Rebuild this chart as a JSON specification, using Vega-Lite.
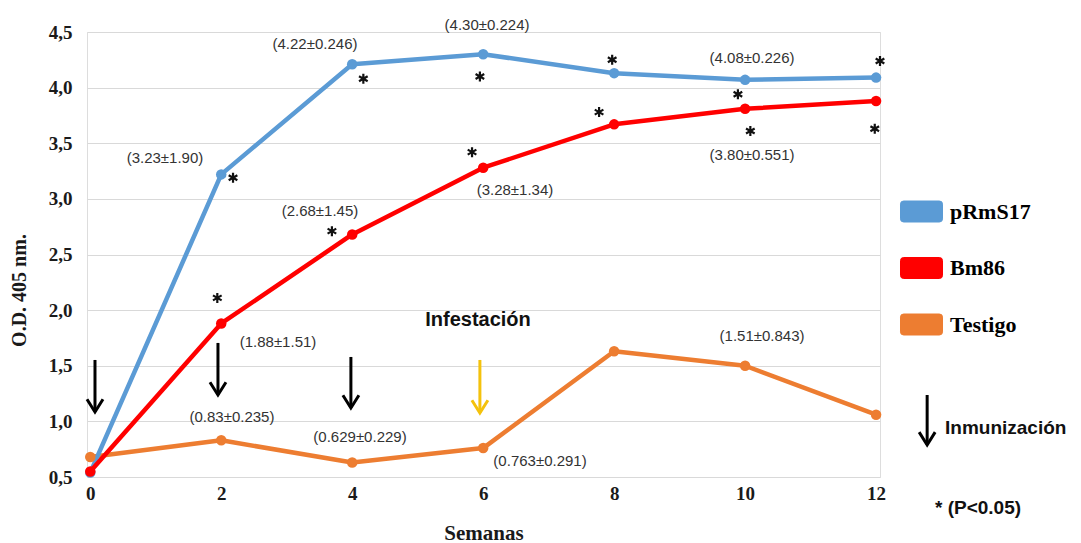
{
  "$schema": "https://vega.github.io/schema/vega-lite/v6.json",
  "width": 793,
  "height": 445,
  "autosize": {"type": "none"},
  "padding": {"left": 87, "top": 32, "right": 201, "bottom": 66},
  "background": "white",
  "datasets": {
    "series": [
      {"serie": "Testigo", "semana": 0, "od": 0.68},
      {"serie": "Testigo", "semana": 2, "od": 0.83},
      {"serie": "Testigo", "semana": 4, "od": 0.63},
      {"serie": "Testigo", "semana": 6, "od": 0.76},
      {"serie": "Testigo", "semana": 8, "od": 1.63},
      {"serie": "Testigo", "semana": 10, "od": 1.50},
      {"serie": "Testigo", "semana": 12, "od": 1.06},
      {"serie": "pRmS17", "semana": 0, "od": 0.54},
      {"serie": "pRmS17", "semana": 2, "od": 3.22},
      {"serie": "pRmS17", "semana": 4, "od": 4.21},
      {"serie": "pRmS17", "semana": 6, "od": 4.30},
      {"serie": "pRmS17", "semana": 8, "od": 4.13},
      {"serie": "pRmS17", "semana": 10, "od": 4.07},
      {"serie": "pRmS17", "semana": 12, "od": 4.09},
      {"serie": "Bm86", "semana": 0, "od": 0.55},
      {"serie": "Bm86", "semana": 2, "od": 1.88},
      {"serie": "Bm86", "semana": 4, "od": 2.68},
      {"serie": "Bm86", "semana": 6, "od": 3.28},
      {"serie": "Bm86", "semana": 8, "od": 3.67},
      {"serie": "Bm86", "semana": 10, "od": 3.81},
      {"serie": "Bm86", "semana": 12, "od": 3.88}
    ],
    "labels": [
      {"label": "(3.23±1.90)", "x": 1.141, "y": 3.367},
      {"label": "(4.22±0.246)", "x": 3.432, "y": 4.392},
      {"label": "(4.30±0.224)", "x": 6.059, "y": 4.56},
      {"label": "(4.08±0.226)", "x": 10.106, "y": 4.27},
      {"label": "(2.68±1.45)", "x": 3.508, "y": 2.89},
      {"label": "(3.28±1.34)", "x": 6.486, "y": 3.08},
      {"label": "(3.80±0.551)", "x": 10.106, "y": 3.39},
      {"label": "(1.88±1.51)", "x": 2.867, "y": 1.71},
      {"label": "(0.83±0.235)", "x": 2.164, "y": 1.04},
      {"label": "(0.629±0.229)", "x": 4.119, "y": 0.86},
      {"label": "(0.763±0.291)", "x": 6.868, "y": 0.644},
      {"label": "(1.51±0.843)", "x": 10.259, "y": 1.77}
    ],
    "stars": [
      {"x": 2.18, "y": 3.19},
      {"x": 4.17, "y": 4.08},
      {"x": 5.95, "y": 4.10},
      {"x": 7.97, "y": 4.25},
      {"x": 9.89, "y": 3.94},
      {"x": 10.08, "y": 3.61},
      {"x": 12.06, "y": 4.24},
      {"x": 11.98, "y": 3.63},
      {"x": 7.77, "y": 3.78},
      {"x": 5.83, "y": 3.42},
      {"x": 3.69, "y": 2.71},
      {"x": 1.94, "y": 2.11}
    ],
    "arrows": [
      {"tipo": "Inmunización", "x": 0.072, "top": 1.552, "tip": 1.084},
      {"tipo": "Inmunización", "x": 1.95, "top": 1.705, "tip": 1.237},
      {"tipo": "Inmunización", "x": 3.98, "top": 1.579, "tip": 1.12},
      {"tipo": "Infestación", "x": 5.95, "top": 1.552, "tip": 1.075},
      {"tipo": "Inmunización", "x": 12.78, "top": 1.237, "tip": 0.788}
    ],
    "centerText": [
      {"label": "Infestación", "x": 5.921, "y": 1.91}
    ],
    "leftText": [
      {"label": "Inmunización", "x": 13.053, "y": 0.94},
      {"label": "* (P<0.05)", "x": 12.9, "y": 0.221}
    ]
  },
  "layer": [
    {
      "data": {"name": "series"},
      "mark": {"type": "line", "strokeWidth": 4.5, "strokeJoin": "round", "strokeCap": "round"},
      "encoding": {
        "x": {"field": "semana", "type": "quantitative",
          "scale": {"domain": [-0.05, 12.06], "nice": false, "zero": false},
          "axis": {
            "values": [0, 2, 4, 6, 8, 10, 12], "format": "d", "grid": false, "domain": false, "ticks": false,
            "labelFont": "Liberation Serif", "labelFontWeight": "bold", "labelFontSize": 19,
            "labelColor": "#1a1a1a", "labelPadding": 7, "labelFlush": false,
            "title": "Semanas", "titleFont": "Liberation Serif", "titleFontWeight": "bold",
            "titleFontSize": 21, "titleColor": "#1a1a1a", "titleY": 56, "titleBaseline": "middle"
          }},
        "y": {"field": "od", "type": "quantitative",
          "scale": {"domain": [0.5, 4.5], "nice": false, "zero": false},
          "axis": {
            "values": [0.5, 1, 1.5, 2, 2.5, 3, 3.5, 4, 4.5], "grid": true, "gridColor": "#d9d9d9",
            "domain": false, "ticks": false,
            "labelExpr": "replace(format(datum.value, '.1f'), '.', ',')",
            "labelFont": "Liberation Serif", "labelFontWeight": "bold", "labelFontSize": 19,
            "labelColor": "#1a1a1a", "labelPadding": 15, "labelFlush": false,
            "title": "O.D. 405 nm.", "titleFont": "Liberation Serif", "titleFontWeight": "bold",
            "titleFontSize": 20, "titleColor": "#1a1a1a", "titleX": -68, "titleY": 258,
            "titleAngle": -90, "titleAlign": "center", "titleBaseline": "middle"
          }},
        "color": {"field": "serie", "type": "nominal",
          "scale": {"domain": ["pRmS17", "Bm86", "Testigo"], "range": ["#5b9bd5", "#ff0000", "#ed7d31"]},
          "legend": {
            "orient": "none", "legendX": 813, "legendY": 158, "title": null, "padding": 0,
            "symbolType": "M-0.85,-0.5H0.85Q1,-0.5 1,-0.35V0.35Q1,0.5 0.85,0.5H-0.85Q-1,0.5 -1,0.35V-0.35Q-1,-0.5 -0.85,-0.5Z",
            "symbolSize": 1764, "symbolStrokeWidth": 1,
            "labelFont": "Liberation Serif", "labelFontWeight": "bold", "labelFontSize": 22,
            "labelColor": "#000000", "labelOffset": 7, "rowPadding": 22.5,
            "encode": {"symbols": {"update": {
              "fill": {"scale": "color", "field": "value"},
              "stroke": {"scale": "color", "field": "value"},
              "fillOpacity": {"value": 1}, "opacity": {"value": 1}
            }}}
          }}
      }
    },
    {
      "data": {"name": "series"},
      "mark": {"type": "point", "filled": true, "size": 110, "opacity": 1},
      "encoding": {
        "x": {"field": "semana", "type": "quantitative"},
        "y": {"field": "od", "type": "quantitative"},
        "color": {"field": "serie", "type": "nominal"}
      }
    },
    {
      "data": {"name": "labels"},
      "mark": {"type": "text", "font": "Liberation Sans", "fontSize": 15, "color": "#333333", "align": "center", "baseline": "middle"},
      "encoding": {
        "x": {"field": "x", "type": "quantitative"},
        "y": {"field": "y", "type": "quantitative"},
        "text": {"field": "label"}
      }
    },
    {
      "data": {"name": "stars"},
      "mark": {"type": "point", "shape": "M0,-1L0,1M-0.866,-0.5L0.866,0.5M-0.866,0.5L0.866,-0.5", "filled": false, "size": 100, "stroke": "#111111", "strokeWidth": 2.2, "opacity": 1},
      "encoding": {
        "x": {"field": "x", "type": "quantitative"},
        "y": {"field": "y", "type": "quantitative"}
      }
    },
    {
      "data": {"name": "arrows"},
      "mark": {"type": "rule", "strokeWidth": 3},
      "encoding": {
        "x": {"field": "x", "type": "quantitative"},
        "y": {"field": "top", "type": "quantitative"},
        "y2": {"field": "tip"},
        "stroke": {"field": "tipo", "type": "nominal",
          "scale": {"domain": ["Inmunización", "Infestación"], "range": ["#000000", "#f4c20d"]},
          "legend": null}
      }
    },
    {
      "data": {"name": "arrows"},
      "mark": {"type": "point", "shape": "M-1,-1.6L0,0L1,-1.6", "filled": false, "size": 256, "strokeWidth": 3, "opacity": 1},
      "encoding": {
        "x": {"field": "x", "type": "quantitative"},
        "y": {"field": "tip", "type": "quantitative"},
        "stroke": {"field": "tipo", "type": "nominal", "legend": null}
      }
    },
    {
      "data": {"name": "centerText"},
      "mark": {"type": "text", "font": "Liberation Sans", "fontWeight": "bold", "fontSize": 20, "color": "#111111", "align": "center", "baseline": "middle"},
      "encoding": {
        "x": {"field": "x", "type": "quantitative"},
        "y": {"field": "y", "type": "quantitative"},
        "text": {"field": "label"}
      }
    },
    {
      "data": {"name": "leftText"},
      "mark": {"type": "text", "font": "Liberation Sans", "fontWeight": "bold", "fontSize": 19, "color": "#111111", "align": "left", "baseline": "middle"},
      "encoding": {
        "x": {"field": "x", "type": "quantitative"},
        "y": {"field": "y", "type": "quantitative"},
        "text": {"field": "label"}
      }
    }
  ]
}
